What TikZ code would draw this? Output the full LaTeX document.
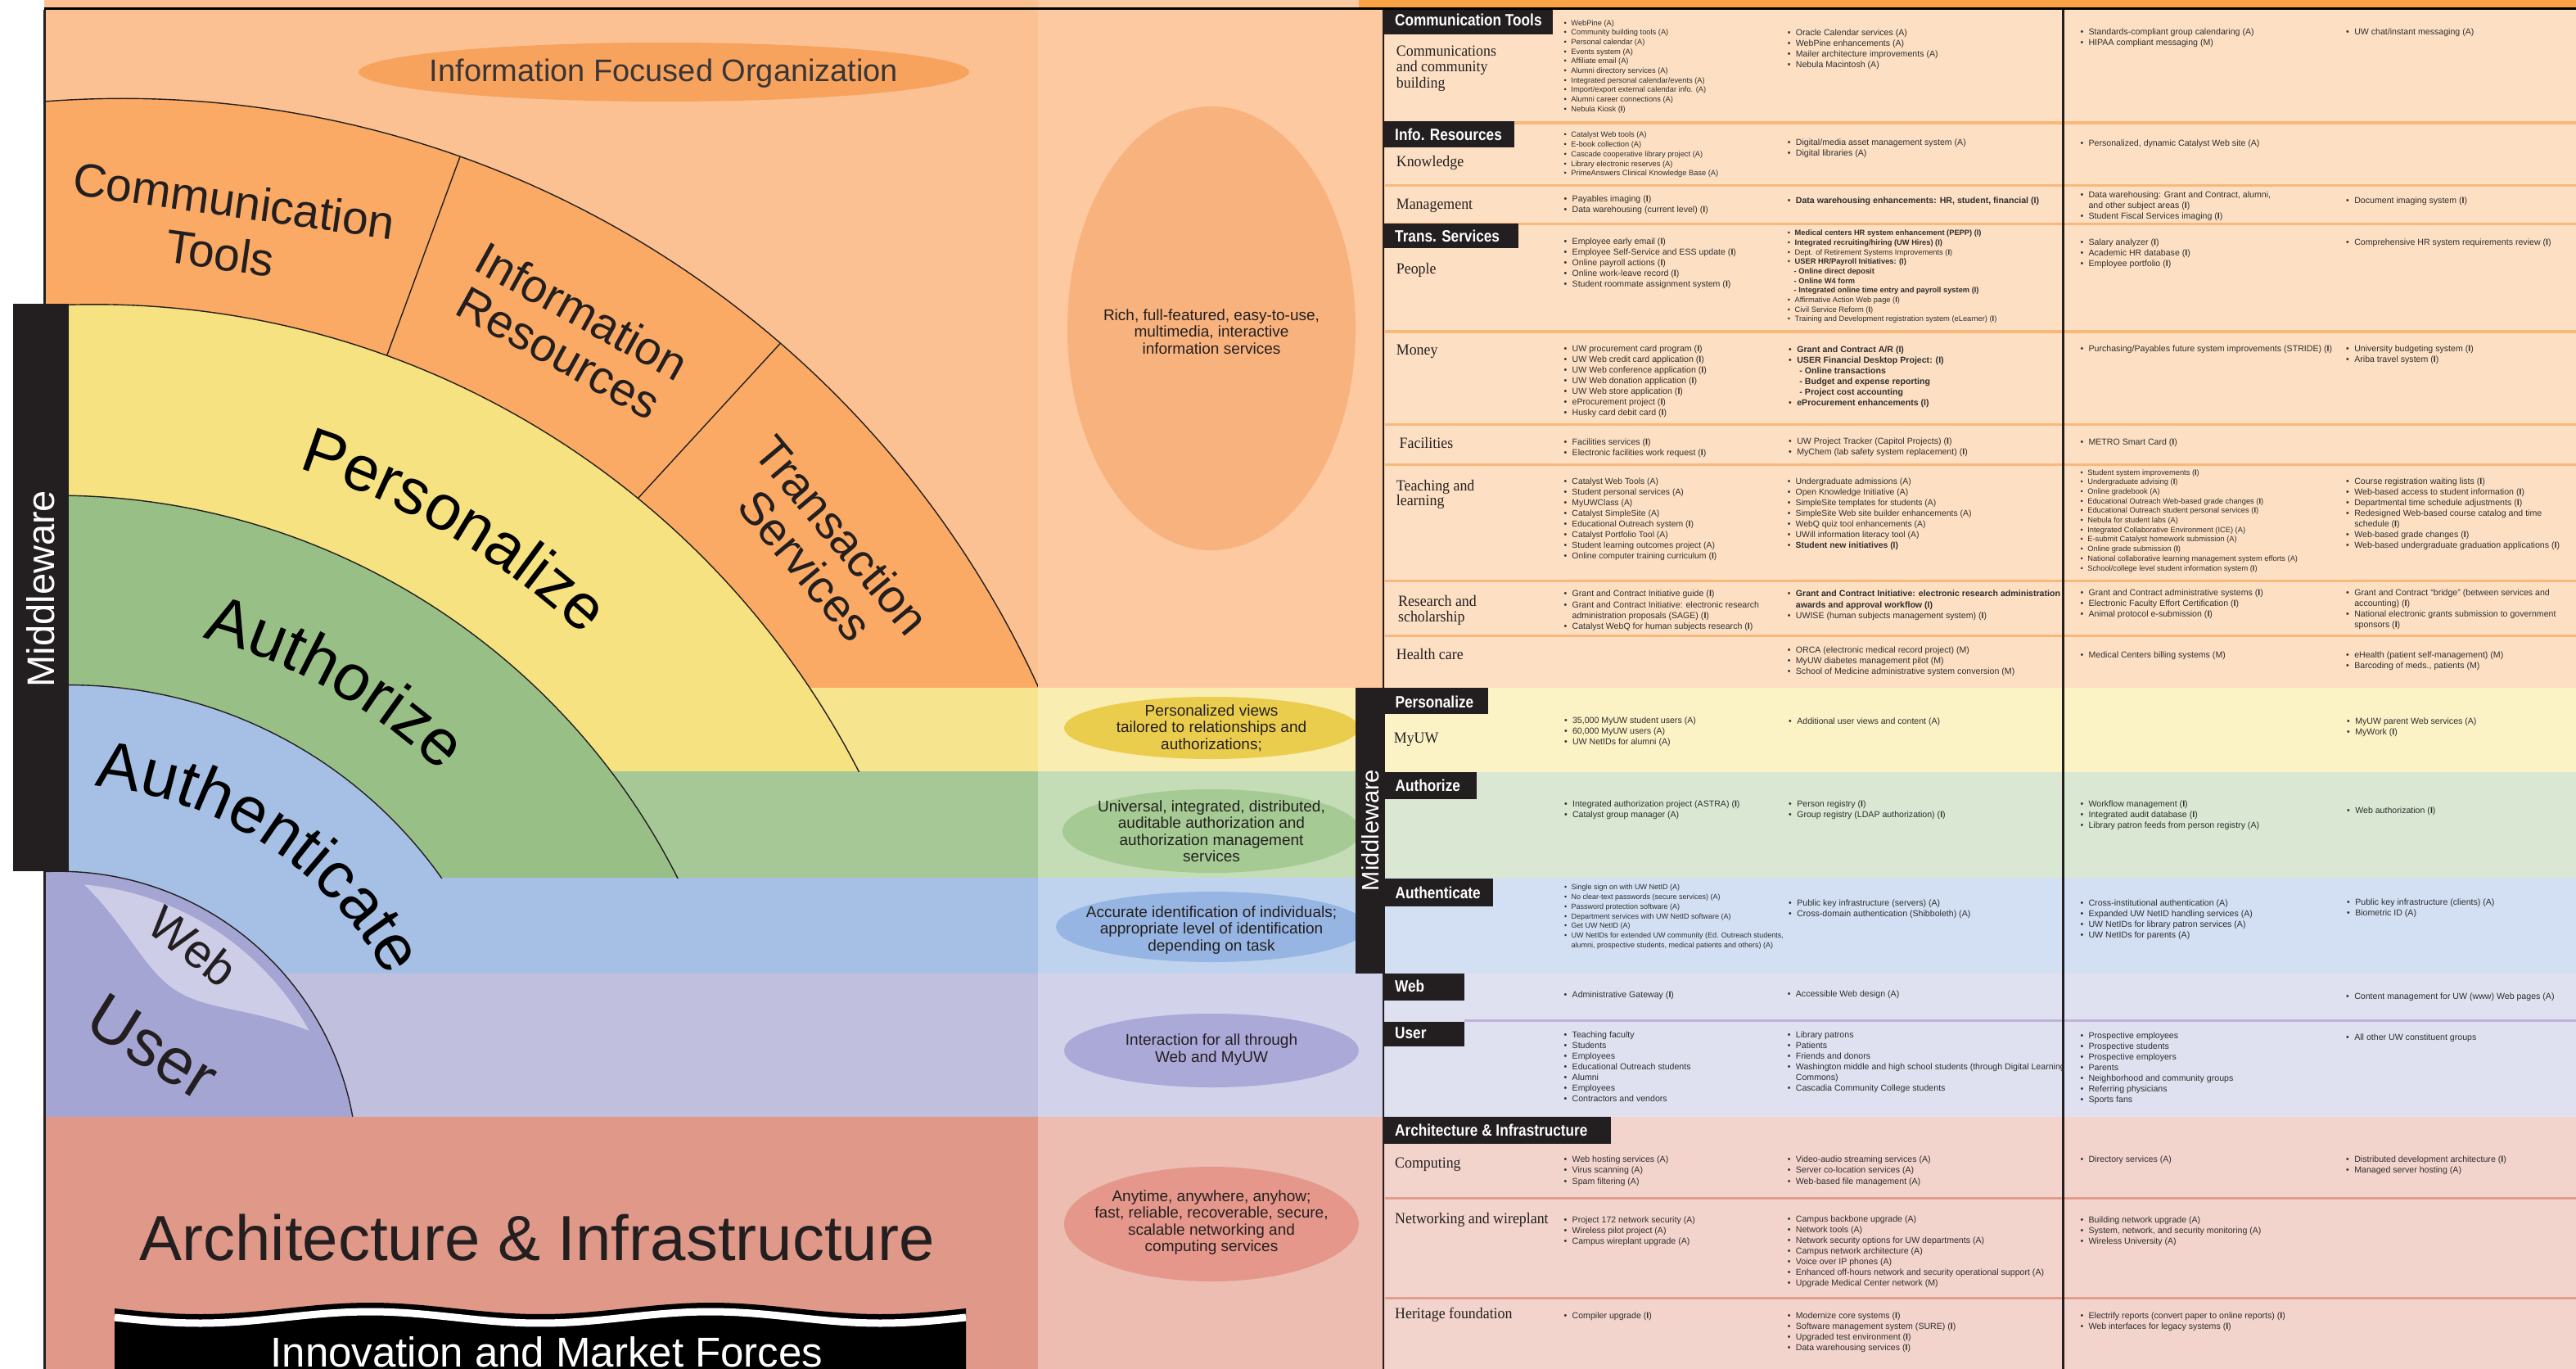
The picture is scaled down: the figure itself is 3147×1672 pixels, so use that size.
\documentclass[tikz,border=0pt]{standalone}
\usepackage{fontspec}
\setmainfont{Liberation Sans}
\newfontfamily\hv{Liberation Sans}
\newfontfamily\hvc[FakeStretch=0.86]{Liberation Sans}
\newfontfamily\lab[FakeStretch=0.94]{Liberation Serif}
\usetikzlibrary{decorations.text,calc}
\definecolor{hdr}{HTML}{F9A246}
\definecolor{lpTop}{HTML}{FBC192}
\definecolor{wedge}{HTML}{FAAA64}
\definecolor{infoEl}{HTML}{F7A35E}
\definecolor{ringY}{HTML}{F6E280}
\definecolor{bandY}{HTML}{F7E48F}
\definecolor{ringG}{HTML}{98C086}
\definecolor{bandG}{HTML}{A6C896}
\definecolor{ringB}{HTML}{A5C0E4}
\definecolor{bandU}{HTML}{C0C0DE}
\definecolor{diskU}{HTML}{A5A5D4}
\definecolor{leafW}{HTML}{CDCDE8}
\definecolor{arch}{HTML}{E09888}
\definecolor{mTop}{HTML}{FCC9A1}
\definecolor{mY}{HTML}{F9EDB2}
\definecolor{mG}{HTML}{C5DDB7}
\definecolor{mB}{HTML}{BFD3EF}
\definecolor{mU}{HTML}{D2D2EB}
\definecolor{mA}{HTML}{EDBDB1}
\definecolor{eTop}{HTML}{F8B27E}
\definecolor{eY}{HTML}{EBCD4E}
\definecolor{eG}{HTML}{A5CA93}
\definecolor{eB}{HTML}{97B5E2}
\definecolor{eU}{HTML}{ABA9D8}
\definecolor{eA}{HTML}{E4978A}
\definecolor{tTop}{HTML}{FDE0C4}
\definecolor{tY}{HTML}{FBF2C6}
\definecolor{tG}{HTML}{DAE8D3}
\definecolor{tB}{HTML}{D3E0F3}
\definecolor{tU}{HTML}{E0E1F0}
\definecolor{tA}{HTML}{F3D4CC}
\definecolor{sepO}{HTML}{F9B87A}
\definecolor{sepA}{HTML}{E39D8C}
\definecolor{sepU}{HTML}{BDB3DA}
\definecolor{ink}{HTML}{231F20}
\definecolor{itemc}{HTML}{2E2E2E}
\newcommand\BUL{\makebox[0.95em][l]{\textbullet}}
\newcommand\IB{(\textbf{I})}
\newcommand\IND{\hspace*{0.95em}}
\newcommand\SUB{\hspace*{0.85em}}
\newcommand\SUBB{\hspace*{1.25em}}
\newcommand\blk[6]{\foreach \t [count=\i from 0] in {#6} {\node[itm,font=\hv\fontsize{#5}{#5}\selectfont] (#1-\i) at (#2,{#3+0.3*#5+\i*#4}) {\t};}}
\begin{document}
\begin{tikzpicture}[x=1pt,y=-1pt,
 itm/.style={anchor=base west,inner sep=0pt,text=itemc},
 lbl/.style={anchor=base west,inner sep=0pt,text=ink,font=\lab\fontsize{19}{19}\selectfont},
 tabtxt/.style={anchor=base west,inner sep=0pt,text=white,font=\hvc\bfseries\fontsize{20}{20}\selectfont},
 big/.style={inner sep=0pt,text=ink,font=\hv\fontsize{57}{58}\selectfont,align=center},
 midt/.style={inner sep=0pt,text=ink,font=\hv\fontsize{19}{20.5}\selectfont,align=center},
 arcline/.style={draw=ink,line width=1.4pt}]
\useasboundingbox (0,0) rectangle (3147,1672);
\fill[white] (0,0) rectangle (3147,1672);
% ---------------- left panel ----------------
\coordinate (A1) at (150,1349.4);
\coordinate (A2) at (115.2,1421.2);
\coordinate (A3) at (68,1456.2);
\coordinate (A4) at (84.1,1394);
\coordinate (AU) at (71.8,1429);
\fill[lpTop] (54,0) rectangle (1268,1364);
\begin{scope}
\clip (54,0) rectangle (1268,1364);
\begin{scope}\clip (54,0) rectangle (1268,840); \fill[wedge] (A1) circle[radius=1229.1]; \end{scope}
\fill[bandY] (54,840) rectangle (1268,942);
\begin{scope}\clip (54,0) rectangle (1268,942); \fill[ringY] (A2) circle[radius=1049.4]; \end{scope}
\fill[bandG] (54,942) rectangle (1268,1072);
\begin{scope}\clip (54,0) rectangle (1268,1072); \fill[ringG] (A3) circle[radius=851.1]; \end{scope}
\fill[ringB] (54,1072) rectangle (1268,1189);
\begin{scope}\clip (54,0) rectangle (1268,1189); \fill[ringB] (A4) circle[radius=557.4]; \end{scope}
\fill[bandU] (54,1189) rectangle (1268,1364);
\fill[diskU] (AU) circle[radius=364.8];
% outlines
\begin{scope}\clip (54,0) rectangle (1268,840); \draw[arcline] (A1) circle[radius=1229.1]; \end{scope}
\begin{scope}\clip (54,0) rectangle (1268,942); \draw[arcline] (A2) circle[radius=1049.4]; \end{scope}
\begin{scope}\clip (54,0) rectangle (1268,1072); \draw[arcline] (A3) circle[radius=851.1]; \draw[arcline] (A4) circle[radius=557.4]; \end{scope}
\draw[arcline] (AU) circle[radius=364.8];
\end{scope}
\coordinate (D1a) at (562,191.4);
\coordinate (D1b) at (472.5,434.6);
\coordinate (D2a) at (953.4,419.2);
\coordinate (D2b) at (779.3,608.7);
\draw[arcline] (D1a) -- (D1b);
\draw[arcline] (D2a) -- (D2b);
% web leaf
\fill[leafW] plot[domain=5.1:60.9,samples=50] ({71.8+350*sin(\x)},{1429-350*cos(\x)}) -- plot[domain=60.9:5.1,samples=50] ({71.8+(350-88*sin(180*(\x-5.1)/55.8))*sin(\x)},{1429-(350-88*sin(180*(\x-5.1)/55.8))*cos(\x)}) -- cycle;
% info ellipse
\fill[infoEl] (811,88) ellipse[x radius=373,y radius=36];
\node[inner sep=0pt,text=ink!90,font=\hv\fontsize{38}{38}\selectfont] (ifo) at (811,90) {Information Focused Organization};
% wedge labels
\node[big,rotate=-8] (ct1) at (286,245) {Communication};
\node[big,rotate=-8] (ct2) at (269,309) {Tools};
\node[big,rotate=-29] (ir) at (697,405) {Information\\Resources};
\node[big,rotate=-50] (ts) at (1006.5,671.8) {Transaction\\Services};
% ring labels along arcs
\path[decorate,decoration={text along path,text align=center,text={|\hv\fontsize{78}{78}\selectfont|Personalize}}]
 plot[domain=-4.65:65.35,samples=120] ({90+910*sin(\x)},{1440-910*cos(\x)});
\path[decorate,decoration={text along path,text align=center,text={|\hv\fontsize{80}{80}\selectfont|Authorize}}]
 plot[domain=-5.65:64.35,samples=120] ({76+668*sin(\x)},{1425-668*cos(\x)});
\path[decorate,decoration={text along path,text align=center,text={|\hv\fontsize{80}{80}\selectfont|Authenticate}}]
 plot[domain=-1.95:68.05,samples=120] ({78+451*sin(\x)},{1410-451*cos(\x)});
\node[inner sep=0pt,text=ink,font=\hv\fontsize{58}{58}\selectfont,rotate=-38] (web) at (236.3,1155.8) {Web};
\node[inner sep=0pt,text=ink,font=\hv\fontsize{80}{80}\selectfont,rotate=-32] (usr) at (186.5,1278.6) {User};
% architecture label & banner
\fill[arch] (54,1364) rectangle (1268,1672);
\node[anchor=base,inner sep=0pt,text=ink,font=\hv\fontsize{78}{78}\selectfont] (arch) at (656,1539) {Architecture \& Infrastructure};
\fill[black] plot[domain=140:1180,samples=90] (\x,{1598+7*sin(0.86538*(\x-140))}) -- (1180,1672) -- (140,1672) -- cycle;
\draw[white,line width=9pt] plot[domain=140:1180,samples=90] (\x,{1609+7*sin(0.86538*(\x-140))});
\node[anchor=base,inner sep=0pt,text=white,font=\hv\fontsize{51}{51}\selectfont] (imf) at (668,1669) {Innovation and Market Forces};
% left border and middleware bar
\fill[ink] (53,12) rectangle (55.5,1672);
\fill[ink] (16,371) rectangle (84,1064);
\node[rotate=90,inner sep=0pt,text=white,font=\hv\fontsize{47}{47}\selectfont] (mwl) at (50,719) {Middleware};
% ---------------- middle column ----------------
\fill[mTop] (1268,0) rectangle (1692,840);
\fill[mY] (1268,840) rectangle (1692,942);
\fill[mG] (1268,942) rectangle (1692,1072);
\fill[mB] (1268,1072) rectangle (1692,1189);
\fill[mU] (1268,1189) rectangle (1692,1364);
\fill[mA] (1268,1364) rectangle (1692,1672);
\fill[eTop] (1480,401) ellipse[x radius=176,y radius=271];
\fill[eY] (1480,889) ellipse[x radius=180,y radius=38];
\fill[eG] (1480,1015) ellipse[x radius=182,y radius=51];
\fill[eB] (1480,1132) ellipse[x radius=190,y radius=43];
\fill[eU] (1480,1283) ellipse[x radius=180,y radius=45];
\fill[eA] (1480,1495) ellipse[x radius=180,y radius=70];
\node[midt] (m1) at (1480,405) {Rich, full-featured, easy-to-use,\\multimedia, interactive\\information services};
\node[midt] (m2) at (1480,889) {Personalized views\\tailored to relationships and\\authorizations;};
\node[midt] (m3) at (1480,1015) {Universal, integrated, distributed,\\auditable authorization and\\authorization management\\services};
\node[midt] (m4) at (1480,1136) {Accurate identification of individuals;\\appropriate level of identification\\depending on task};
\node[midt] (m5) at (1480,1282) {Interaction for all through\\Web and MyUW};
\node[midt] (m6) at (1480,1493) {Anytime, anywhere, anyhow;\\fast, reliable, recoverable, secure,\\scalable networking and\\computing services};
% ---------------- table ----------------
\fill[hdr] (1660,0) rectangle (3147,10);
\fill[tTop] (1692,12) rectangle (3147,840);
\fill[tY] (1692,840) rectangle (3147,943);
\fill[tG] (1692,943) rectangle (3147,1072);
\fill[tB] (1692,1072) rectangle (3147,1189);
\fill[tU] (1692,1189) rectangle (3147,1364);
\fill[tA] (1692,1364) rectangle (3147,1672);
\foreach \a/\b in {148.3/151.7,225/228.3,272/275,403.3/406.5,517.3/520.3,566/569.3,707.7/710.5,775/778}
 \fill[sepO] (1692,\a) rectangle (3147,\b);
\fill[sepU] (1788.7,1245) rectangle (3147,1248.3);
\fill[sepA] (1692,1461.7) rectangle (3147,1465);
\fill[sepA] (1692,1584.3) rectangle (3147,1587.3);
\fill[black] (54,9.5) rectangle (3147,12);
\fill[ink] (1688.5,12) rectangle (1691,1672);
\fill[ink] (2519.3,12) rectangle (2521.8,1672);
\fill[ink] (1655.5,840) rectangle (1691.6,1189);
\node[rotate=90,inner sep=0pt,text=white,font=\hv\fontsize{29}{29}\selectfont] (mwr) at (1674,1014) {Middleware};
% tabs
\fill[ink] (1690.7,11.7) rectangle (1897,41.7);
\node[tabtxt] (tabCT) at (1704,31.7) {Communication Tools};
\fill[ink] (1690.7,148.3) rectangle (1850.4,180);
\node[tabtxt] (tabIR) at (1704,171.5) {Info. Resources};
\fill[ink] (1690.7,272.7) rectangle (1855.2,303.3);
\node[tabtxt] (tabTS) at (1704,295) {Trans. Services};
\fill[ink] (1691.6,840) rectangle (1818,871.7);
\node[tabtxt] (tabPZ) at (1704.4,864) {Personalize};
\fill[ink] (1691.6,943.3) rectangle (1804,976);
\node[tabtxt] (tabAZ) at (1704.4,966.7) {Authorize};
\fill[ink] (1691.6,1073.3) rectangle (1823.7,1106.7);
\node[tabtxt] (tabAU) at (1704.4,1097.3) {Authenticate};
\fill[ink] (1690.7,1189.3) rectangle (1788.7,1221.7);
\node[tabtxt] (tabWB) at (1704,1211) {Web};
\fill[ink] (1690.7,1248.3) rectangle (1788.7,1277.7);
\node[tabtxt] (tabUS) at (1704,1268.3) {User};
\fill[ink] (1690.7,1364) rectangle (1968.2,1396.7);
\node[tabtxt] (tabAI) at (1704,1387.3) {Architecture \& Infrastructure};
% row labels
\node[lbl] (l1) at (1705.7,68.3) {Communications};
\node[lbl] (l2) at (1705.7,88) {and community};
\node[lbl] (l3) at (1705.7,107.5) {building};
\node[lbl] (l4) at (1705.7,204) {Knowledge};
\node[lbl] (l5) at (1705.7,255) {Management};
\node[lbl] (l6) at (1705.7,334) {People};
\node[lbl] (l7) at (1705.7,433) {Money};
\node[lbl] (l8) at (1709.5,547.7) {Facilities};
\node[lbl] (l9) at (1705.7,599) {Teaching and};
\node[lbl] (l10) at (1705.7,617.3) {learning};
\node[lbl] (l11) at (1707.9,740) {Research and};
\node[lbl] (l12) at (1707.9,759) {scholarship};
\node[lbl] (l13) at (1705.7,805) {Health care};
\node[lbl] (l14) at (1702.7,907.3) {MyUW};
\node[lbl] (l15) at (1704,1426.7) {Computing};
\node[lbl] (l16) at (1704,1494.3) {Networking and wireplant};
\node[lbl] (l17) at (1704,1610) {Heritage foundation};
% items
\blk{CTa}{1910.4}{28.3}{11.67}{9.3}{{\BUL WebPine (A)},{\BUL Community building tools (A)},{\BUL Personal calendar (A)},{\BUL Events system (A)},{\BUL Affiliate email (A)},{\BUL Alumni directory services (A)},{\BUL Integrated personal calendar/events (A)},{\BUL Import/export external calendar info. (A)},{\BUL Alumni career connections (A)},{\BUL Nebula Kiosk \IB}}
\blk{CTb}{2183.6}{40.7}{13}{10.6}{{\BUL Oracle Calendar services (A)},{\BUL WebPine enhancements (A)},{\BUL Mailer architecture improvements (A)},{\BUL Nebula Macintosh (A)}}
\blk{CTc}{2541.3}{39.3}{13}{10.6}{{\BUL Standards-compliant group calendaring (A)},{\BUL HIPAA compliant messaging (M)}}
\blk{CTd}{2866}{39.3}{13}{10.6}{{\BUL UW chat/instant messaging (A)}}
\blk{KNa}{1910.4}{165}{11.8}{9.3}{{\BUL Catalyst Web tools (A)},{\BUL E-book collection (A)},{\BUL Cascade cooperative library project (A)},{\BUL Library electronic reserves (A)},{\BUL PrimeAnswers Clinical Knowledge Base (A)}}
\blk{KNb}{2183.6}{174.3}{13}{10.6}{{\BUL Digital/media asset management system (A)},{\BUL Digital libraries (A)}}
\blk{KNc}{2541.3}{175.7}{13}{10.6}{{\BUL Personalized, dynamic Catalyst Web site (A)}}
\blk{MGa}{1910.4}{243.3}{13.3}{10.6}{{\BUL Payables imaging \IB},{\BUL Data warehousing (current level) \IB}}
\blk{MGb}{2183.6}{245}{13}{10.6}{{\BUL\textbf{Data warehousing enhancements: HR, student, financial (I)}}}
\blk{MGc}{2541.3}{238.3}{12.9}{10.6}{{\BUL Data warehousing: Grant and Contract, alumni,},{\IND and other subject areas \IB},{\BUL Student Fiscal Services imaging \IB}}
\blk{MGd}{2866}{245}{13}{10.6}{{\BUL Document imaging system \IB}}
\blk{PEa}{1910.4}{295}{13}{10.6}{{\BUL Employee early email \IB},{\BUL Employee Self-Service and ESS update \IB},{\BUL Online payroll actions \IB},{\BUL Online work-leave record \IB},{\BUL Student roommate assignment system \IB}}
\blk{PEb}{2183.6}{285}{11.67}{9.3}{{\BUL\textbf{Medical centers HR system enhancement (PEPP) (I)}},{\BUL\textbf{Integrated recruiting/hiring (UW Hires) (I)}},{\BUL Dept. of Retirement Systems Improvements \IB},{\BUL\textbf{USER HR/Payroll Initiatives: (I)}},{\SUB\textbf{- Online direct deposit}},{\SUB\textbf{- Online W4 form}},{\SUB\textbf{- Integrated online time entry and payroll system (I)}},{\BUL Affirmative Action Web page \IB},{\BUL Civil Service Reform \IB},{\BUL Training and Development registration system (eLearner) \IB}}
\blk{PEc}{2541.3}{296}{13}{10.6}{{\BUL Salary analyzer \IB},{\BUL Academic HR database \IB},{\BUL Employee portfolio \IB}}
\blk{PEd}{2866}{296}{13}{10.6}{{\BUL Comprehensive HR system requirements review \IB}}
\blk{MOa}{1910.4}{426.3}{13}{10.6}{{\BUL UW procurement card program \IB},{\BUL UW Web credit card application \IB},{\BUL UW Web conference application \IB},{\BUL UW Web donation application \IB},{\BUL UW Web store application \IB},{\BUL eProcurement project \IB},{\BUL Husky card debit card \IB}}
\blk{MOb}{2185}{427}{13.1}{10.6}{{\BUL\textbf{Grant and Contract A/R (I)}},{\BUL\textbf{USER Financial Desktop Project: (I)}},{\SUBB\textbf{- Online transactions}},{\SUBB\textbf{- Budget and expense reporting}},{\SUBB\textbf{- Project cost accounting}},{\BUL\textbf{eProcurement enhancements (I)}}}
\blk{MOc}{2541.3}{426.3}{13}{10.6}{{\BUL Purchasing/Payables future system improvements (STRIDE) \IB}}
\blk{MOd}{2866}{426.3}{13}{10.6}{{\BUL University budgeting system \IB},{\BUL Ariba travel system \IB}}
\blk{FAa}{1910.4}{540.3}{13.4}{10.6}{{\BUL Facilities services \IB},{\BUL Electronic facilities work request \IB}}
\blk{FAb}{2185}{539.3}{13.4}{10.6}{{\BUL UW Project Tracker (Capitol Projects) \IB},{\BUL MyChem (lab safety system replacement) \IB}}
\blk{FAc}{2541.3}{540.3}{13}{10.6}{{\BUL METRO Smart Card \IB}}
\blk{TLa}{1910.4}{588.7}{13}{10.4}{{\BUL Catalyst Web Tools (A)},{\BUL Student personal services (A)},{\BUL MyUWClass (A)},{\BUL Catalyst SimpleSite (A)},{\BUL Educational Outreach system \IB},{\BUL Catalyst Portfolio Tool (A)},{\BUL Student learning outcomes project (A)},{\BUL Online computer training curriculum \IB}}
\blk{TLb}{2183.6}{588.7}{13}{10.4}{{\BUL Undergraduate admissions (A)},{\BUL Open Knowledge Initiative (A)},{\BUL SimpleSite templates for students (A)},{\BUL SimpleSite Web site builder enhancements (A)},{\BUL WebQ quiz tool enhancements (A)},{\BUL UWill information literacy tool (A)},{\BUL\textbf{Student new initiatives (I)}}}
\blk{TLc}{2541.3}{577.3}{11.7}{9.3}{{\BUL Student system improvements \IB},{\BUL Undergraduate advising \IB},{\BUL Online gradebook (A)},{\BUL Educational Outreach Web-based grade changes \IB},{\BUL Educational Outreach student personal services \IB},{\BUL Nebula for student labs (A)},{\BUL Integrated Collaborative Environment (ICE) (A)},{\BUL E-submit Catalyst homework submission (A)},{\BUL Online grade submission \IB},{\BUL National collaborative learning management system efforts (A)},{\BUL School/college level student information system \IB}}
\blk{TLd}{2866}{588.7}{13}{10.6}{{\BUL Course registration waiting lists \IB},{\BUL Web-based access to student information \IB},{\BUL Departmental time schedule adjustments \IB},{\BUL Redesigned Web-based course catalog and time},{\IND schedule \IB},{\BUL Web-based grade changes \IB},{\BUL Web-based undergraduate graduation applications \IB}}
\blk{RSa}{1910.4}{725.7}{13.2}{10.6}{{\BUL Grant and Contract Initiative guide \IB},{\BUL Grant and Contract Initiative: electronic research},{\IND administration proposals (SAGE) \IB},{\BUL Catalyst WebQ for human subjects research \IB}}
\blk{RSb}{2183.6}{725.7}{13.2}{10.6}{{\BUL\textbf{Grant and Contract Initiative: electronic research administration}},{\IND\textbf{awards and approval workflow (I)}},{\BUL UWISE (human subjects management system) \IB}}
\blk{RSc}{2541.3}{724}{13}{10.6}{{\BUL Grant and Contract administrative systems \IB},{\BUL Electronic Faculty Effort Certification \IB},{\BUL Animal protocol e-submission \IB}}
\blk{RSd}{2866}{724}{13}{10.6}{{\BUL Grant and Contract “bridge” (between services and},{\IND accounting) \IB},{\BUL National electronic grants submission to government},{\IND sponsors \IB}}
\blk{HCb}{2183.6}{794.3}{13}{10.6}{{\BUL ORCA (electronic medical record project) (M)},{\BUL MyUW diabetes management pilot (M)},{\BUL School of Medicine administrative system conversion (M)}}
\blk{HCc}{2541.3}{800}{13}{10.6}{{\BUL Medical Centers billing systems (M)}}
\blk{HCd}{2866}{800}{13}{10.6}{{\BUL eHealth (patient self-management) (M)},{\BUL Barcoding of meds., patients (M)}}
\blk{PZa}{1910.8}{880.7}{12.8}{10.6}{{\BUL 35,000 MyUW student users (A)},{\BUL 60,000 MyUW users (A)},{\BUL UW NetIDs for alumni (A)}}
\blk{PZb}{2185}{881.7}{13}{10.6}{{\BUL Additional user views and content (A)}}
\blk{PZd}{2867}{881.7}{13}{10.6}{{\BUL MyUW parent Web services (A)},{\BUL MyWork \IB}}
\blk{AZa}{1910.8}{982.3}{13}{10.6}{{\BUL Integrated authorization project (ASTRA) \IB},{\BUL Catalyst group manager (A)}}
\blk{AZb}{2185}{982}{13}{10.6}{{\BUL Person registry \IB},{\BUL Group registry (LDAP authorization) \IB}}
\blk{AZc}{2541.3}{982.3}{13.2}{10.6}{{\BUL Workflow management \IB},{\BUL Integrated audit database \IB},{\BUL Library patron feeds from person registry (A)}}
\blk{AZd}{2867}{990}{13}{10.6}{{\BUL Web authorization \IB}}
\blk{AUa}{1910.8}{1084}{11.8}{9}{{\BUL Single sign on with UW NetID (A)},{\BUL No clear-text passwords (secure services) (A)},{\BUL Password protection software (A)},{\BUL Department services with UW NetID software (A)},{\BUL Get UW NetID (A)},{\BUL UW NetIDs for extended UW community (Ed. Outreach students,},{\IND alumni, prospective students, medical patients and others) (A)}}
\blk{AUb}{2185}{1103.3}{13}{10.6}{{\BUL Public key infrastructure (servers) (A)},{\BUL Cross-domain authentication (Shibboleth) (A)}}
\blk{AUc}{2541.3}{1103.3}{13}{10.6}{{\BUL Cross-institutional authentication (A)},{\BUL Expanded UW NetID handling services (A)},{\BUL UW NetIDs for library patron services (A)},{\BUL UW NetIDs for parents (A)}}
\blk{AUd}{2867}{1102.3}{13}{10.6}{{\BUL Public key infrastructure (clients) (A)},{\BUL Biometric ID (A)}}
\blk{WBa}{1910.4}{1215}{13}{10.6}{{\BUL Administrative Gateway \IB}}
\blk{WBb}{2183.6}{1214.3}{13}{10.6}{{\BUL Accessible Web design (A)}}
\blk{WBd}{2866}{1217.7}{13}{10.6}{{\BUL Content management for UW (www) Web pages (A)}}
\blk{USa}{1910.4}{1264}{13.1}{10.6}{{\BUL Teaching faculty},{\BUL Students},{\BUL Employees},{\BUL Educational Outreach students},{\BUL Alumni},{\BUL Employees},{\BUL Contractors and vendors}}
\blk{USb}{2183.6}{1264}{13.1}{10.6}{{\BUL Library patrons},{\BUL Patients},{\BUL Friends and donors},{\BUL Washington middle and high school students (through Digital Learning},{\IND Commons)},{\BUL Cascadia Community College students}}
\blk{USc}{2541.3}{1265.7}{13}{10.6}{{\BUL Prospective employees},{\BUL Prospective students},{\BUL Prospective employers},{\BUL Parents},{\BUL Neighborhood and community groups},{\BUL Referring physicians},{\BUL Sports fans}}
\blk{USd}{2866}{1267.3}{13}{10.6}{{\BUL All other UW constituent groups}}
\blk{COa}{1910.4}{1416}{13.6}{10.6}{{\BUL Web hosting services (A)},{\BUL Virus scanning (A)},{\BUL Spam filtering (A)}}
\blk{COb}{2183.6}{1416}{13.6}{10.6}{{\BUL Video-audio streaming services (A)},{\BUL Server co-location services (A)},{\BUL Web-based file management (A)}}
\blk{COc}{2541.3}{1416}{13}{10.6}{{\BUL Directory services (A)}}
\blk{COd}{2866}{1416}{13}{10.6}{{\BUL Distributed development architecture \IB},{\BUL Managed server hosting (A)}}
\blk{NWa}{1910.4}{1490}{13.3}{10.6}{{\BUL Project 172 network security (A)},{\BUL Wireless pilot project (A)},{\BUL Campus wireplant upgrade (A)}}
\blk{NWb}{2183.6}{1489.3}{13}{10.6}{{\BUL Campus backbone upgrade (A)},{\BUL Network tools (A)},{\BUL Network security options for UW departments (A)},{\BUL Campus network architecture (A)},{\BUL Voice over IP phones (A)},{\BUL Enhanced off-hours network and security operational support (A)},{\BUL Upgrade Medical Center network (M)}}
\blk{NWc}{2541.3}{1490.3}{13}{10.6}{{\BUL Building network upgrade (A)},{\BUL System, network, and security monitoring (A)},{\BUL Wireless University (A)}}
\blk{HFa}{1910.4}{1607.3}{13}{10.6}{{\BUL Compiler upgrade \IB}}
\blk{HFb}{2183.6}{1607}{13}{10.6}{{\BUL Modernize core systems \IB},{\BUL Software management system (SURE) \IB},{\BUL Upgraded test environment \IB},{\BUL Data warehousing services \IB}}
\blk{HFc}{2541.3}{1607}{13}{10.6}{{\BUL Electrify reports (convert paper to online reports) \IB},{\BUL Web interfaces for legacy systems \IB}}
\end{tikzpicture}
\end{document}
